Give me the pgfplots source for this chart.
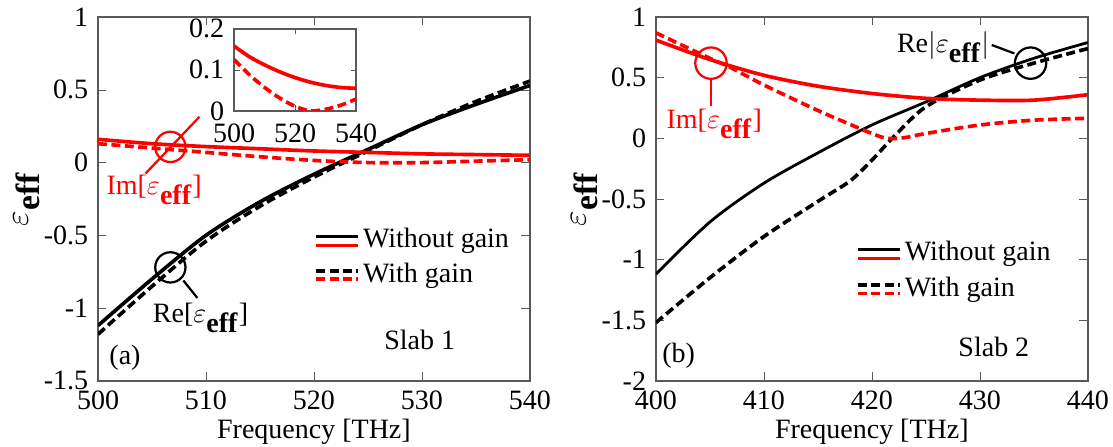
\documentclass[border=0pt]{standalone}
\usepackage{fontspec}
\setmainfont{Liberation Serif}
\usepackage{pgfplots}
\pgfplotsset{compat=1.18}

% 1 px of the reference = 0.357pt
\pgfplotsset{
  panel/.style={
    scale only axis, width=154.2pt, height=129.9pt,
    anchor=south west,
    axis line style={gray!70!black, line width=0.6pt},
    tick align=inside, xtick pos=both, ytick pos=both,
    major tick length=3pt,
    tick style={gray!70!black},
    /pgf/number format/assume math mode=true,
    ticklabel style={font=\rmfamily\normalsize},
    label style={font=\rmfamily\normalsize},
    xlabel={Frequency [THz]},
    ylabel={\large$\varepsilon_{\textbf{eff}}$},
    xlabel style={at={(axis description cs:0.5,-0.14)}, anchor=center},
    ylabel style={at={(axis description cs:-0.165,0.5)}, anchor=center},
    clip=true,
  },
  solid curve/.style={line width=1.3pt, smooth},
  dash curve/.style={line width=1.3pt, smooth, dash pattern=on 3.2pt off 1.6pt},
}

\begin{document}
\begin{tikzpicture}
\path[use as bounding box] (-35pt,-23.6pt) rectangle (362.4pt,136pt);

% ---------- panel (a) ----------
\begin{axis}[panel, at={(0pt,0pt)},
  xmin=500, xmax=540, ymin=-1.5, ymax=1,
  xtick={500,510,...,540}, ytick={-1.5,-1,...,1}]
\addplot[black, solid curve] coordinates {
 (500,-1.12) (505,-0.80) (510,-0.50) (515,-0.27) (520,-0.08) (525,0.09) (530,0.26) (535,0.40) (540,0.53)};
\addplot[black, dash curve] coordinates {
 (500,-1.18) (505,-0.85) (510,-0.54) (515,-0.30) (520,-0.10) (525,0.08) (530,0.26) (535,0.42) (540,0.56)};
\addplot[red, solid curve] coordinates {
 (500,0.16) (505,0.13) (510,0.11) (515,0.095) (520,0.08) (525,0.07) (530,0.06) (535,0.055) (540,0.05)};
\addplot[red, dash curve] coordinates {
 (500,0.13) (505,0.10) (510,0.07) (515,0.04) (520,0.015) (525,0.0) (530,0.0) (535,0.01) (540,0.02)};

% annotations
\draw[red, line width=0.8pt] (axis cs:506.7,0.108) circle[radius=5.4pt];
\draw[red, line width=0.8pt] (axis cs:509.4,0.315) -- (axis cs:504.4,-0.075);
\node[red, font=\normalsize] at (axis cs:505.2,-0.19) {Im[$\varepsilon_{\textbf{eff}}$]};
\draw[black, line width=0.8pt] (axis cs:506.7,-0.72) circle[radius=5.4pt];
\draw[black, line width=0.8pt] (axis cs:507.9,-0.81) -- (axis cs:509.2,-0.93);
\node[font=\normalsize] at (axis cs:509.5,-1.07) {Re[$\varepsilon_{\textbf{eff}}$]};

% legend
\draw[black, line width=1.3pt] (axis cs:520.2,-0.507) -- (axis cs:524.1,-0.507);
\draw[red, line width=1.3pt] (axis cs:520.2,-0.57) -- (axis cs:524.1,-0.57);
\node[anchor=west, inner sep=0pt] at (axis cs:524.5,-0.54) {Without gain};
\draw[black, line width=1.3pt, dash pattern=on 3.2pt off 1.6pt] (axis cs:520.2,-0.746) -- (axis cs:524.1,-0.746);
\draw[red, line width=1.3pt, dash pattern=on 3.2pt off 1.6pt] (axis cs:520.2,-0.80) -- (axis cs:524.1,-0.80);
\node[anchor=west, inner sep=0pt] at (axis cs:524.5,-0.775) {With gain};

\node at (axis cs:529.8,-1.22) {Slab 1};
\node at (axis cs:502.5,-1.34) {(a)};
\end{axis}

% inset of panel (a)
\begin{axis}[at={(48.6pt,96.4pt)}, anchor=south west,
  scale only axis, width=43.6pt, height=29.3pt,
  xmin=500, xmax=540, ymin=0, ymax=0.2,
  xtick={500,520,540}, ytick={0,0.1,0.2},
  axis line style={gray!70!black, line width=0.6pt},
  tick align=inside, xtick pos=both, ytick pos=both,
  major tick length=2pt, tick style={gray!70!black},
  /pgf/number format/assume math mode=true,
  ticklabel style={font=\rmfamily\normalsize},
  xticklabel style={yshift=-1pt},
  axis background/.style={fill=white}]
\addplot[red, line width=1.3pt, smooth] coordinates {
 (500,0.158) (505,0.132) (510,0.112) (515,0.095) (520,0.081) (525,0.07) (530,0.062) (535,0.057) (540,0.055)};
\addplot[red, line width=1.3pt, smooth, dash pattern=on 3.2pt off 1.6pt] coordinates {
 (500,0.125) (505,0.088) (510,0.057) (515,0.031) (520,0.011) (525,0.0) (530,0.004) (535,0.014) (540,0.029)};
\end{axis}

% ---------- panel (b) ----------
\begin{axis}[panel, at={(199.2pt,0pt)},
  xmin=400, xmax=440, ymin=-2, ymax=1,
  xtick={400,410,...,440}, ytick={-2,-1.5,...,1}]
\addplot[black, line width=1pt, smooth] coordinates {
 (400,-1.12) (405,-0.69) (410,-0.37) (415,-0.12) (420,0.11) (425,0.30) (430,0.50) (435,0.66) (440,0.79)};
\addplot[black, dash curve] coordinates {
 (400,-1.52) (405,-1.15) (410,-0.81) (415,-0.52) (418,-0.35) (420,-0.18) (422,0.01) (425,0.26) (430,0.48) (435,0.62) (440,0.74)};
\addplot[red, solid curve] coordinates {
 (400,0.81) (405,0.65) (410,0.52) (415,0.43) (420,0.37) (425,0.33) (430,0.315) (435,0.315) (440,0.36)};
\addplot[red, dash curve] coordinates {
 (400,0.87) (405,0.66) (407,0.58) (410,0.44) (415,0.23) (420,0.04) (421.5,0.0) (423,0.005) (425,0.04) (430,0.11) (435,0.15) (440,0.165)};

% annotations
\draw[red, line width=0.8pt] (axis cs:405.1,0.62) circle[radius=5.6pt];
\draw[red, line width=0.8pt] (axis cs:405.1,0.49) -- (axis cs:405.1,0.27);
\node[red] at (axis cs:405.4,0.12) {Im[$\varepsilon_{\textbf{eff}}$]};
\draw[black, line width=0.8pt] (axis cs:434.7,0.62) circle[radius=5.6pt];
\draw[black, line width=0.8pt] (axis cs:433.2,0.70) -- (axis cs:431.1,0.77);
\node at (axis cs:426.6,0.75) {Re$|\varepsilon_{\textbf{eff}}|$};

% legend
\draw[black, line width=1.1pt] (axis cs:418.7,-0.92) -- (axis cs:422.6,-0.92);
\draw[red, line width=1.3pt] (axis cs:418.7,-0.99) -- (axis cs:422.6,-0.99);
\node[anchor=west, inner sep=0pt] at (axis cs:423.0,-0.955) {Without gain};
\draw[black, line width=1.3pt, dash pattern=on 3.2pt off 1.6pt] (axis cs:418.7,-1.21) -- (axis cs:422.6,-1.21);
\draw[red, line width=1.3pt, dash pattern=on 3.2pt off 1.6pt] (axis cs:418.7,-1.28) -- (axis cs:422.6,-1.28);
\node[anchor=west, inner sep=0pt] at (axis cs:423.0,-1.245) {With gain};

\node at (axis cs:431.3,-1.72) {Slab 2};
\node at (axis cs:402.1,-1.79) {(b)};
\end{axis}
\end{tikzpicture}
\end{document}
